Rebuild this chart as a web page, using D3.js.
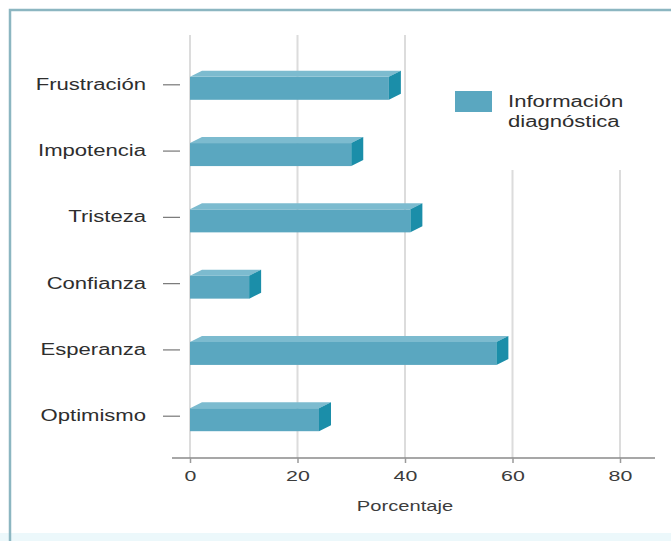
<!DOCTYPE html>
<html>
<head>
<meta charset="utf-8">
<script src="https://cdn.jsdelivr.net/npm/d3@7"></script>
<style>
  html, body { margin: 0; padding: 0; background: #ffffff; }
  svg { display: block; }
  text { font-family: "Liberation Sans", Arial, Helvetica, sans-serif; }
</style>
</head>
<body>
<div id="chart"></div>
<script>
// Emociones ante la información diagnóstica (porcentaje)
const categories = ["Frustración", "Impotencia", "Tristeza", "Confianza", "Esperanza", "Optimismo"];
const values = [37, 30, 41, 11, 57, 24];
const xTicks = [0, 20, 40, 60, 80];
const seriesName = ["Información", "diagnóstica"];
const axisTitle = "Porcentaje";

const W = 671, H = 541;
const STRETCH = 1.38;           // horizontally widened lettering
const colors = { front: "#5aa7c0", top: "#7cbbcf", side: "#1b8ea9" };

const svg = d3.select("#chart").append("svg")
  .attr("width", W).attr("height", H);

// frame
svg.append("rect").attr("x", 0).attr("y", 533).attr("width", W).attr("height", 8)
  .attr("fill", "#ecf8fb");
svg.append("path").attr("d", `M10,${H} V10 H${W}`)
  .attr("fill", "none").attr("stroke", "#8cb6c1").attr("stroke-width", 2.5);

const x = d3.scaleLinear().domain([0, 80]).range([190, 620]);
const y = d3.scalePoint().domain(categories).range([84.3, 415.7]);
const axisY = 458;

// legend position (used to shorten the gridlines beneath it)
const legend = { x: 455, y: 91, w: 37, h: 21 };

// vertical gridlines
svg.append("g").selectAll("line").data(xTicks).join("line")
  .attr("x1", d => x(d)).attr("x2", d => x(d))
  .attr("y1", d => x(d) > legend.x ? 170 : 35)
  .attr("y2", axisY)
  .attr("stroke", "#dcdcdc").attr("stroke-width", 2);

// bottom axis
svg.append("line").attr("x1", 172).attr("x2", 655).attr("y1", axisY).attr("y2", axisY)
  .attr("stroke", "#8a8a8a").attr("stroke-width", 1.5);
const gx = svg.append("g").attr("transform", `translate(0,${axisY})`)
  .call(d3.axisBottom(x).tickValues(xTicks).tickSize(5).tickSizeOuter(0).tickPadding(9));
gx.select(".domain").remove();
gx.selectAll(".tick line").attr("stroke", "#9a9a9a").attr("stroke-width", 1.5);
gx.selectAll(".tick text")
  .attr("font-size", 15.5).attr("fill", "#3c3c3c")
  .attr("dy", "0.6em")
  .attr("transform", `scale(${STRETCH},1)`);

svg.append("text").attr("x", 0).attr("y", 0)
  .attr("transform", `translate(${(x(0) + x(80)) / 2},511) scale(1.3,1)`)
  .attr("text-anchor", "middle").attr("font-size", 15.5).attr("fill", "#3c3c3c")
  .text(axisTitle);

// left category axis
const gy = svg.append("g").attr("transform", "translate(180,0)")
  .call(d3.axisLeft(y).tickSize(17).tickPadding(0).tickSizeOuter(0));
gy.select(".domain").remove();
gy.selectAll(".tick line").attr("stroke", "#777").attr("stroke-width", 1.2);
gy.selectAll(".tick text")
  .attr("x", 0).attr("dy", "0.32em")
  .attr("font-size", 16).attr("fill", "#2e2e2e")
  .attr("transform", `translate(-34,0) scale(${STRETCH},1)`);

// 3D bars
const dx = 12, dy = 6, frontH = 23, frontOff = 7.5;
const bars = svg.append("g").selectAll("g").data(categories.map((c, i) => ({ c, v: values[i] })))
  .join("g");
bars.append("rect")
  .attr("x", x(0)).attr("y", d => y(d.c) - frontOff)
  .attr("width", d => x(d.v) - x(0)).attr("height", frontH)
  .attr("fill", colors.front);
bars.append("path")
  .attr("d", d => {
    const t = y(d.c) - frontOff, x0 = x(0), x1 = x(d.v);
    return `M${x0},${t} L${x0 + dx},${t - dy} L${x1 + dx},${t - dy} L${x1},${t} Z`;
  })
  .attr("fill", colors.top);
bars.append("path")
  .attr("d", d => {
    const t = y(d.c) - frontOff, x1 = x(d.v);
    return `M${x1},${t} L${x1 + dx},${t - dy} L${x1 + dx},${t + frontH - dy} L${x1},${t + frontH} Z`;
  })
  .attr("fill", colors.side);

// legend
svg.append("rect").attr("x", legend.x).attr("y", legend.y)
  .attr("width", legend.w).attr("height", legend.h).attr("fill", colors.front);
seriesName.forEach((s, i) => {
  svg.append("text").attr("x", 0).attr("y", 0)
    .attr("transform", `translate(508,${107 + i * 20}) scale(${STRETCH},1)`)
    .attr("font-size", 16).attr("fill", "#2e2e2e")
    .text(s);
});
</script>
</body>
</html>
